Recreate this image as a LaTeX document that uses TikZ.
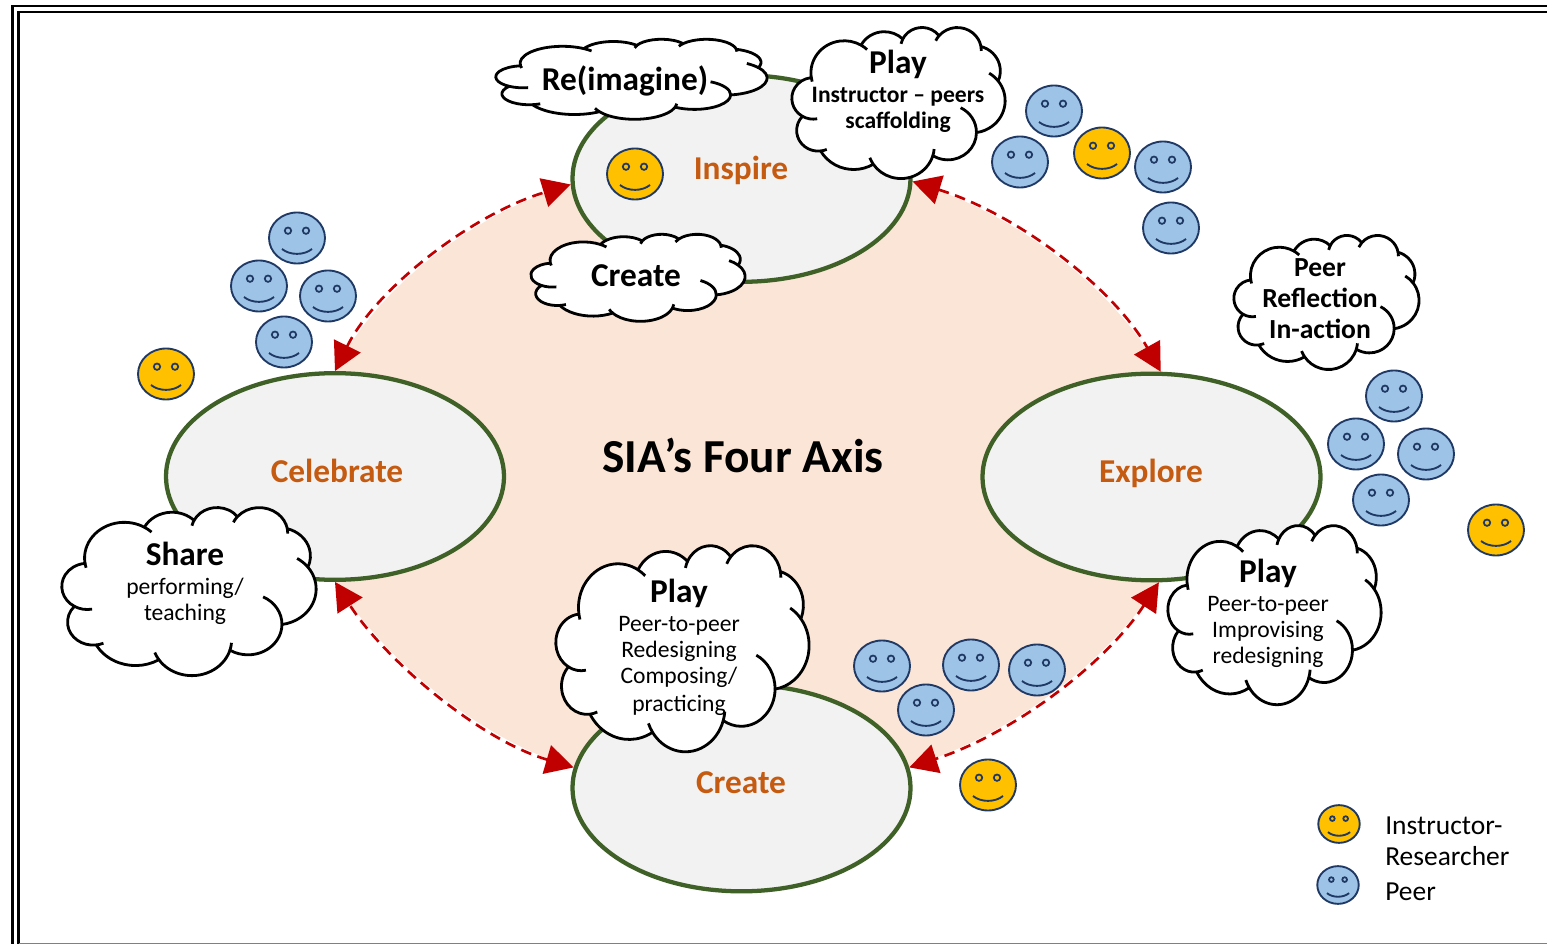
\documentclass[tikz,border=0pt]{standalone}
\usepackage{fontspec}
\setmainfont{Carlito}
\usetikzlibrary{arrows.meta,backgrounds,shapes.geometric}
\definecolor{peach}{HTML}{FBE5D6}
\definecolor{stagefill}{HTML}{F2F2F2}
\definecolor{stageline}{HTML}{3F6127}
\definecolor{stagetext}{HTML}{C55A11}
\definecolor{linkred}{HTML}{C00000}
\definecolor{facenavy}{HTML}{1F3864}
\definecolor{peerblue}{HTML}{9DC3E6}
\definecolor{leadyellow}{HTML}{FFC000}
\tikzset{
  stage/.style={ellipse,draw=stageline,line width=3.2pt,fill=stagefill,minimum width=253.5pt,minimum height=155pt,inner sep=0pt},
  stagelabel/.style={text=stagetext,font=\bfseries\fontsize{25}{28}\selectfont},
  link/.style={draw=linkred,line width=2pt,dash pattern=on 8pt off 5pt,{Triangle[length=21pt,width=22pt,fill=linkred]}-{Triangle[length=21pt,width=22pt,fill=linkred]}},
  headtext/.style={font=\bfseries\fontsize{25}{28}\selectfont},
  boldtext/.style={font=\bfseries\fontsize{17.7}{19.5}\selectfont,align=center},
  bigboldtext/.style={font=\bfseries\fontsize{20.7}{23.25}\selectfont,align=center},
  bodytext/.style={font=\fontsize{17.7}{19.5}\selectfont,align=center},
  legendtext/.style={font=\fontsize{20.6}{23.25}\selectfont,anchor=west,align=left,inner sep=0pt},
  frameline/.style={draw=black,line width=2.2pt},
  pics/face/.style={code={
    \draw[facenavy,line width=1.4pt,fill=#1] (0,0) ellipse [x radius=28,y radius=25.5];
    \draw[facenavy,line width=1.3pt] (-9,-7.3) circle [radius=3.2];
    \draw[facenavy,line width=1.3pt] (9,-7.3) circle [radius=3.2];
    \draw[facenavy,line width=1.4pt] (-15,11) .. controls (-7,17.5) and (7,17.5) .. (15,11);
  }},
  pics/puff/.style={code={
    \path[draw=black,fill=white,line width=2.1pt,line join=round] (39,143.7)
      arc[start angle=-187.745,delta angle=128.135,x radius=67.53,y radius=91.9] coordinate (a1)
      arc[start angle=-152.02,delta angle=106.59,x radius=53.33,y radius=72.67] coordinate (a2)
      arc[start angle=-153.49,delta angle=116.17,x radius=43.65,y radius=59.45] coordinate (a3)
      arc[start angle=-139.71,delta angle=129.5,x radius=48.57,y radius=65.95] coordinate (a4)
      arc[start angle=-74.77,delta angle=97.99,x radius=53.33,y radius=72.73] coordinate (a5)
      arc[start angle=-37.53,delta angle=119.39,x radius=67.75,y radius=92.2] coordinate (a6)
      arc[start angle=.46,delta angle=121.52,x radius=57.85,y radius=78.67] coordinate (a7)
      arc[start angle=16.85,delta angle=129.4,x radius=67.52,y radius=92.15] coordinate (a8)
      arc[start angle=58.98,delta angle=91.21,x radius=77.2,y radius=105.43] coordinate (a9)
      arc[start angle=83.31,delta angle=139.8,x radius=43.6,y radius=59.18] coordinate (a10)
      arc[start angle=120.31,delta angle=143.8,x radius=43.45,y radius=59.45] -- cycle;
    \draw[black,line width=2.1pt]
      (39,143.7) arc[start angle=-187.745,delta angle=-8,x radius=67.53,y radius=91.9]
      (a1) arc[start angle=-59.61,delta angle=13,x radius=67.53,y radius=91.9]
      (a2) arc[start angle=-153.49,delta angle=-14,x radius=43.65,y radius=59.45]
      (a3) arc[start angle=-139.71,delta angle=-15,x radius=48.57,y radius=65.95]
      (a4) arc[start angle=-10.21,delta angle=11,x radius=48.57,y radius=65.95]
      (a5) arc[start angle=-37.53,delta angle=-21,x radius=67.75,y radius=92.2]
      (a6) arc[start angle=.46,delta angle=-64,x radius=57.85,y radius=78.67]
      (a7) arc[start angle=16.85,delta angle=-12,x radius=67.52,y radius=92.15]
      (a8) arc[start angle=146.25,delta angle=13,x radius=67.52,y radius=92.15]
      (a9) arc[start angle=83.31,delta angle=-17,x radius=43.6,y radius=59.18]
      (a10) arc[start angle=120.31,delta angle=-41,x radius=43.45,y radius=59.45];
  }}
}
\begin{document}
\begin{tikzpicture}[x=.75pt,y=-.75pt]
  \useasboundingbox (0,0) rectangle (1547,944);
  \draw[frameline] (12.5,960) -- (12.5,6) -- (1600,6);
  \draw[frameline] (18.5,960) -- (18.5,12) -- (1600,12);
  \draw[gray,line width=1pt] (18.5,943.5) -- (1600,943.5);
  \node[stage] (inspire) at (741.5,178.5) {};
  \node[stage] (celebrate) at (335,476.5) {};
  \node[stage] (explore) at (1151.5,477) {};
  \node[stage] (create) at (741.5,788) {};
  \begin{scope}[on background layer]
    \fill[peach] (celebrate.north) .. controls (375,290) and (470,215) .. (inspire.182)
      -- (inspire.-1) .. controls (1020,215) and (1115,290) .. (explore.85)
      -- (explore.-86) .. controls (1105,665) and (1010,735) .. (create.7)
      -- (create.173) .. controls (480,740) and (385,660) .. (celebrate.south) -- cycle;
  \end{scope}
  \draw[link] (celebrate.north) .. controls (375,290) and (470,215) .. (inspire.182);
  \draw[link] (inspire.-1) .. controls (1020,215) and (1115,290) .. (explore.85);
  \draw[link] (explore.-86) .. controls (1105,665) and (1010,735) .. (create.7);
  \draw[link] (create.173) .. controls (480,740) and (385,660) .. (celebrate.south);
  \node[stagelabel] (inspirelabel) at (741,170) {Inspire};
  \node[stagelabel] (celebratelabel) at (337,471) {Celebrate};
  \node[stagelabel] (explorelabel) at (1151,473) {Explore};
  \node[stagelabel] (createlabel) at (741,783) {Create};
  \node[font=\bfseries\fontsize{35.5}{44}\selectfont] (title) at (743,455.5) {SIA’s Four Axis};
  \pic at (635,174) {face=leadyellow};
  \pic at (297,238) {face=peerblue};
  \pic at (259,286) {face=peerblue};
  \pic at (328,296) {face=peerblue};
  \pic at (284,342) {face=peerblue};
  \pic at (166,374) {face=leadyellow};
  \pic at (1054,111) {face=peerblue};
  \pic at (1020,162) {face=peerblue};
  \pic at (1163,167) {face=peerblue};
  \pic at (1171,228) {face=peerblue};
  \pic at (1102,153) {face=leadyellow};
  \pic at (1394,396) {face=peerblue};
  \pic at (1356,444) {face=peerblue};
  \pic at (1426,454) {face=peerblue};
  \pic at (1381,500) {face=peerblue};
  \pic at (1496,530) {face=leadyellow};
  \pic at (882,666) {face=peerblue};
  \pic at (971,665) {face=peerblue};
  \pic at (1037,670) {face=peerblue};
  \pic at (926,710) {face=peerblue};
  \pic at (988,785) {face=leadyellow};
  \pic[scale=.74] at (1339,824) {face=leadyellow};
  \pic[scale=.74] at (1338,885) {face=peerblue};
  \pic[shift={(496,39)},xscale=.6273,yscale=.1852] {puff};
  \pic[shift={(792,27)},xscale=.4931,yscale=.3495] {puff};
  \pic[shift={(531,234)},xscale=.4954,yscale=.2014] {puff};
  \pic[shift={(1234,235)},xscale=.4282,yscale=.3102] {puff};
  \pic[shift={(62,507)},xscale=.588,yscale=.3889] {puff};
  \pic[shift={(1168,525)},xscale=.4931,yscale=.4144] {puff};
  \pic[shift={(556,545)},xscale=.5856,yscale=.4769] {puff};
  \node[headtext] (reimagine) at (625,81) {Re(imagine)};
  \node[headtext] (scaffoldhead) at (898,64) {Play};
  \node[boldtext] (scaffoldbody) at (898,109.5) {Instructor – peers\\scaffolding};
  \node[headtext] (createcloud) at (636,276) {Create};
  \node[bigboldtext] (reflection) at (1320,299) {Peer\\Reflection\\In-action};
  \node[headtext] (sharehead) at (185,553.5) {Share};
  \node[bodytext] (sharebody) at (185,601) {performing/\\teaching};
  \node[headtext] (improvisehead) at (1268,573.5) {Play};
  \node[bodytext] (improvisebody) at (1268,632) {Peer-to-peer\\Improvising\\redesigning};
  \node[headtext] (composehead) at (679,593.5) {Play};
  \node[bodytext] (composebody) at (679,666) {Peer-to-peer\\Redesigning\\Composing/\\[1.5pt]practicing};
  \node[legendtext] (legendlead) at (1385,841) {Instructor-\\Researcher};
  \node[legendtext] (legendpeer) at (1385,892) {Peer};
\end{tikzpicture}
\end{document}
